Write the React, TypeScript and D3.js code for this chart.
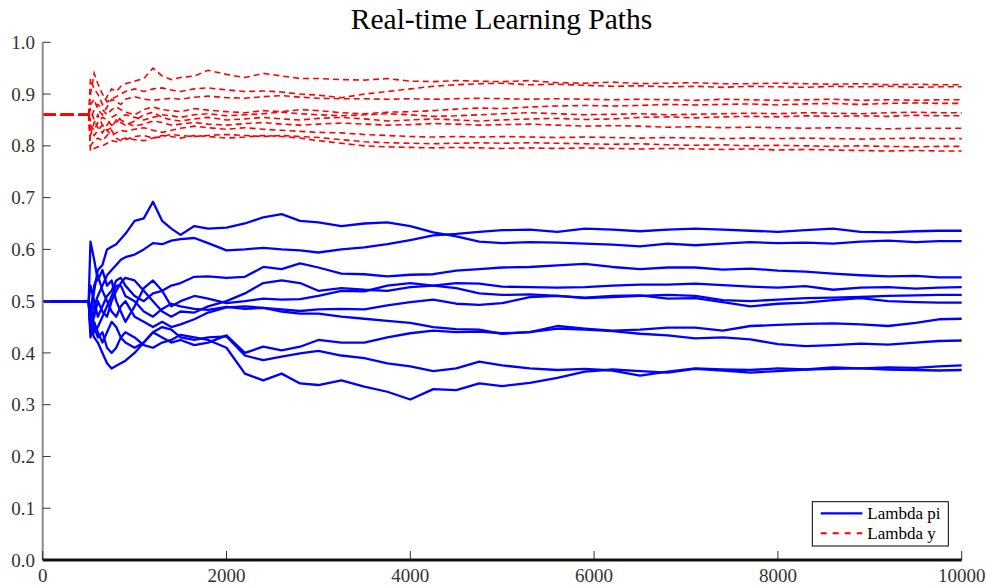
import React from 'react';
import * as d3 from 'd3';

const TITLE = 'Real-time Learning Paths';
const LEGEND_LABELS = ['Lambda pi', 'Lambda y'];
const X_TICKS = [0, 2000, 4000, 6000, 8000, 10000];
const Y_TICKS = [0, 0.1, 0.2, 0.3, 0.4, 0.5, 0.6, 0.7, 0.8, 0.9, 1.0];

// iteration index shared by all paths
const ITER = [0, 500, 520, 560, 600, 650, 700, 750, 800, 850,
  900, 1000, 1100, 1200, 1300, 1400, 1500, 1650, 1800, 2000,
  2200, 2400, 2600, 2800, 3000, 3250, 3500, 3750, 4000, 4250,
  4500, 4750, 5000, 5300, 5600, 5900, 6200, 6500, 6800, 7100,
  7400, 7700, 8000, 8300, 8600, 8900, 9200, 9500, 9750, 10000];

// Lambda pi paths
const PI_1 = [0.5, 0.5, 0.44, 0.49, 0.51, 0.53, 0.55, 0.56, 0.57, 0.58,
  0.585, 0.59, 0.60, 0.612, 0.61, 0.617, 0.62, 0.622, 0.612, 0.598,
  0.60, 0.603, 0.60, 0.598, 0.594, 0.60, 0.604, 0.61, 0.618, 0.627,
  0.63, 0.634, 0.637, 0.638, 0.634, 0.64, 0.638, 0.635, 0.638, 0.64,
  0.638, 0.636, 0.634, 0.637, 0.64, 0.634, 0.633, 0.635, 0.636, 0.636];
const PI_2 = [0.5, 0.5, 0.47, 0.52, 0.56, 0.57, 0.60, 0.605, 0.61, 0.62,
  0.63, 0.655, 0.66, 0.692, 0.655, 0.64, 0.628, 0.645, 0.64, 0.642,
  0.65, 0.662, 0.668, 0.655, 0.652, 0.645, 0.65, 0.652, 0.645, 0.633,
  0.625, 0.615, 0.612, 0.614, 0.613, 0.611, 0.609, 0.606, 0.611, 0.608,
  0.611, 0.614, 0.612, 0.613, 0.611, 0.615, 0.617, 0.614, 0.616, 0.616];
const PI_3 = [0.5, 0.5, 0.53, 0.5, 0.47, 0.49, 0.51, 0.52, 0.54, 0.545,
  0.53, 0.51, 0.50, 0.515, 0.52, 0.53, 0.535, 0.547, 0.548, 0.545,
  0.547, 0.566, 0.562, 0.573, 0.565, 0.553, 0.552, 0.548, 0.551, 0.552,
  0.559, 0.562, 0.565, 0.566, 0.569, 0.572, 0.566, 0.562, 0.565, 0.565,
  0.561, 0.563, 0.559, 0.557, 0.553, 0.55, 0.548, 0.549, 0.546, 0.546];
const PI_4 = [0.5, 0.5, 0.45, 0.47, 0.50, 0.48, 0.47, 0.50, 0.52, 0.535,
  0.545, 0.54, 0.52, 0.50, 0.48, 0.47, 0.48, 0.478, 0.49, 0.50,
  0.515, 0.535, 0.54, 0.535, 0.52, 0.525, 0.522, 0.52, 0.527, 0.53,
  0.535, 0.534, 0.528, 0.527, 0.526, 0.527, 0.53, 0.532, 0.532, 0.534,
  0.531, 0.528, 0.526, 0.529, 0.522, 0.526, 0.527, 0.524, 0.526, 0.527];
const PI_5 = [0.5, 0.5, 0.615, 0.58, 0.54, 0.56, 0.53, 0.54, 0.50, 0.48,
  0.46, 0.49, 0.525, 0.54, 0.52, 0.49, 0.50, 0.51, 0.505, 0.496,
  0.50, 0.505, 0.503, 0.504, 0.51, 0.52, 0.519, 0.53, 0.535, 0.53,
  0.525, 0.515, 0.512, 0.513, 0.51, 0.506, 0.508, 0.51, 0.512, 0.51,
  0.502, 0.50, 0.503, 0.506, 0.507, 0.508, 0.51, 0.511, 0.512, 0.512];
const PI_6 = [0.5, 0.5, 0.48, 0.53, 0.55, 0.52, 0.50, 0.48, 0.47, 0.49,
  0.50, 0.47, 0.46, 0.45, 0.46, 0.45, 0.455, 0.465, 0.478, 0.488,
  0.49, 0.487, 0.484, 0.481, 0.484, 0.485, 0.484, 0.492, 0.498, 0.503,
  0.495, 0.493, 0.496, 0.508, 0.51, 0.507, 0.51, 0.511, 0.505, 0.506,
  0.498, 0.49, 0.495, 0.497, 0.502, 0.506, 0.50, 0.498, 0.497, 0.497];
const PI_7 = [0.5, 0.5, 0.46, 0.44, 0.45, 0.47, 0.49, 0.51, 0.53, 0.53,
  0.51, 0.50, 0.48, 0.47, 0.485, 0.495, 0.49, 0.485, 0.483, 0.489,
  0.485, 0.487, 0.48, 0.476, 0.476, 0.47, 0.466, 0.462, 0.458, 0.45,
  0.446, 0.445, 0.437, 0.44, 0.452, 0.447, 0.443, 0.445, 0.449, 0.449,
  0.443, 0.452, 0.454, 0.456, 0.457, 0.455, 0.452, 0.458, 0.465, 0.466];
const PI_8 = [0.5, 0.5, 0.43, 0.46, 0.44, 0.42, 0.44, 0.46, 0.45, 0.43,
  0.42, 0.41, 0.42, 0.44, 0.43, 0.42, 0.425, 0.415, 0.42, 0.434,
  0.40, 0.412, 0.405, 0.412, 0.425, 0.42, 0.42, 0.43, 0.438, 0.443,
  0.44, 0.441, 0.438, 0.44, 0.447, 0.445, 0.442, 0.437, 0.434, 0.428,
  0.43, 0.426, 0.417, 0.413, 0.415, 0.418, 0.416, 0.42, 0.423, 0.424];
const PI_9 = [0.5, 0.5, 0.45, 0.43, 0.42, 0.40, 0.38, 0.37, 0.375, 0.38,
  0.385, 0.40, 0.42, 0.44, 0.45, 0.445, 0.43, 0.425, 0.43, 0.432,
  0.395, 0.386, 0.393, 0.399, 0.404, 0.395, 0.39, 0.38, 0.374, 0.365,
  0.37, 0.383, 0.376, 0.37, 0.367, 0.369, 0.366, 0.356, 0.364, 0.37,
  0.368, 0.367, 0.37, 0.368, 0.369, 0.37, 0.372, 0.371, 0.374, 0.376];
const PI_10 = [0.5, 0.5, 0.49, 0.45, 0.43, 0.44, 0.41, 0.40, 0.41, 0.43,
  0.44, 0.43, 0.415, 0.41, 0.42, 0.425, 0.435, 0.43, 0.425, 0.41,
  0.36, 0.347, 0.36, 0.341, 0.338, 0.347, 0.335, 0.325, 0.31, 0.33,
  0.328, 0.341, 0.336, 0.342, 0.352, 0.364, 0.368, 0.365, 0.362, 0.369,
  0.366, 0.362, 0.365, 0.368, 0.372, 0.37, 0.368, 0.367, 0.366, 0.367];

// Lambda y paths
const Y_1 = [0.86, 0.86, 0.93, 0.91, 0.90, 0.88, 0.895, 0.91, 0.905, 0.915,
  0.92, 0.925, 0.93, 0.95, 0.935, 0.928, 0.932, 0.935, 0.946, 0.938,
  0.932, 0.94, 0.935, 0.93, 0.93, 0.928, 0.927, 0.93, 0.925, 0.924,
  0.926, 0.925, 0.924, 0.926, 0.922, 0.921, 0.923, 0.92, 0.921, 0.922,
  0.92, 0.92, 0.921, 0.92, 0.919, 0.92, 0.918, 0.919, 0.918, 0.918];
const Y_2 = [0.86, 0.86, 0.90, 0.94, 0.92, 0.90, 0.885, 0.89, 0.895, 0.90,
  0.905, 0.91, 0.905, 0.91, 0.912, 0.908, 0.905, 0.91, 0.912, 0.908,
  0.905, 0.906, 0.904, 0.90, 0.898, 0.893, 0.90, 0.905, 0.91, 0.915,
  0.918, 0.92, 0.921, 0.918, 0.919, 0.917, 0.915, 0.916, 0.914, 0.915,
  0.913, 0.915, 0.914, 0.913, 0.915, 0.914, 0.915, 0.913, 0.914, 0.914];
const Y_3 = [0.86, 0.86, 0.88, 0.89, 0.87, 0.86, 0.875, 0.89, 0.885, 0.88,
  0.89, 0.895, 0.89, 0.888, 0.89, 0.892, 0.89, 0.894, 0.896, 0.893,
  0.892, 0.895, 0.897, 0.894, 0.892, 0.891, 0.891, 0.89, 0.891, 0.89,
  0.891, 0.892, 0.891, 0.89, 0.891, 0.89, 0.889, 0.89, 0.889, 0.888,
  0.89, 0.889, 0.888, 0.889, 0.89, 0.888, 0.889, 0.888, 0.889, 0.889];
const Y_4 = [0.86, 0.86, 0.85, 0.87, 0.88, 0.87, 0.86, 0.87, 0.875, 0.87,
  0.865, 0.86, 0.87, 0.875, 0.87, 0.868, 0.866, 0.872, 0.869, 0.866,
  0.864, 0.868, 0.866, 0.87, 0.868, 0.864, 0.862, 0.865, 0.866, 0.868,
  0.871, 0.873, 0.872, 0.875, 0.877, 0.878, 0.877, 0.878, 0.88, 0.879,
  0.88, 0.881, 0.879, 0.881, 0.882, 0.88, 0.882, 0.883, 0.882, 0.882];
const Y_5 = [0.86, 0.86, 0.84, 0.83, 0.845, 0.855, 0.85, 0.84, 0.845, 0.855,
  0.86, 0.855, 0.85, 0.855, 0.86, 0.858, 0.855, 0.86, 0.862, 0.858,
  0.86, 0.862, 0.865, 0.862, 0.86, 0.858, 0.86, 0.862, 0.86, 0.857,
  0.858, 0.86, 0.862, 0.864, 0.862, 0.86, 0.861, 0.862, 0.86, 0.861,
  0.862, 0.863, 0.862, 0.864, 0.863, 0.862, 0.864, 0.865, 0.864, 0.864];
const Y_6 = [0.86, 0.86, 0.82, 0.845, 0.86, 0.84, 0.83, 0.835, 0.85, 0.845,
  0.84, 0.848, 0.86, 0.865, 0.855, 0.85, 0.848, 0.852, 0.855, 0.85,
  0.852, 0.855, 0.852, 0.85, 0.853, 0.855, 0.852, 0.848, 0.85, 0.852,
  0.85, 0.848, 0.85, 0.852, 0.853, 0.851, 0.852, 0.855, 0.856, 0.854,
  0.856, 0.857, 0.856, 0.858, 0.857, 0.858, 0.857, 0.859, 0.858, 0.858];
const Y_7 = [0.86, 0.86, 0.87, 0.85, 0.835, 0.825, 0.84, 0.855, 0.86, 0.85,
  0.845, 0.838, 0.842, 0.848, 0.845, 0.84, 0.842, 0.845, 0.842, 0.84,
  0.843, 0.845, 0.842, 0.84, 0.842, 0.844, 0.842, 0.84, 0.841, 0.843,
  0.842, 0.84, 0.841, 0.842, 0.84, 0.838, 0.839, 0.838, 0.836, 0.837,
  0.835, 0.836, 0.835, 0.834, 0.835, 0.834, 0.833, 0.834, 0.834, 0.834];
const Y_8 = [0.86, 0.86, 0.835, 0.82, 0.83, 0.84, 0.83, 0.82, 0.825, 0.83,
  0.828, 0.832, 0.835, 0.83, 0.826, 0.83, 0.834, 0.838, 0.835, 0.832,
  0.835, 0.832, 0.83, 0.828, 0.826, 0.825, 0.822, 0.82, 0.818, 0.817,
  0.818, 0.817, 0.818, 0.817, 0.816, 0.817, 0.816, 0.815, 0.816, 0.815,
  0.814, 0.815, 0.814, 0.815, 0.814, 0.813, 0.814, 0.815, 0.814, 0.814];
const Y_9 = [0.86, 0.86, 0.80, 0.81, 0.815, 0.81, 0.82, 0.83, 0.815, 0.81,
  0.812, 0.818, 0.82, 0.815, 0.818, 0.822, 0.82, 0.818, 0.82, 0.822,
  0.82, 0.818, 0.82, 0.818, 0.816, 0.812, 0.808, 0.806, 0.805, 0.804,
  0.805, 0.806, 0.805, 0.806, 0.805, 0.804, 0.803, 0.804, 0.802, 0.801,
  0.802, 0.80, 0.801, 0.80, 0.799, 0.80, 0.799, 0.798, 0.799, 0.799];
const Y_10 = [0.86, 0.86, 0.79, 0.795, 0.798, 0.80, 0.805, 0.81, 0.808, 0.812,
  0.815, 0.812, 0.81, 0.815, 0.82, 0.818, 0.815, 0.82, 0.818, 0.815,
  0.817, 0.82, 0.818, 0.815, 0.81, 0.805, 0.80, 0.798, 0.797, 0.796,
  0.797, 0.796, 0.795, 0.796, 0.795, 0.796, 0.795, 0.794, 0.795, 0.794,
  0.793, 0.794, 0.792, 0.793, 0.792, 0.791, 0.79, 0.791, 0.79, 0.79];

const PI_PATHS = [PI_1, PI_2, PI_3, PI_4, PI_5, PI_6, PI_7, PI_8, PI_9, PI_10];
const Y_PATHS = [Y_1, Y_2, Y_3, Y_4, Y_5, Y_6, Y_7, Y_8, Y_9, Y_10];

const FONT = '"Liberation Serif", "Times New Roman", serif';
const BLUE = '#0000ff';
const RED = '#ff0000';

export default function App() {
  const W = 987;
  const H = 585;
  const x = d3.scaleLinear().domain([0, 10000]).range([42.7, 961.7]);
  const y = d3.scaleLinear().domain([0, 1]).range([560, 42.3]);

  const toPts = (vals: number[], from: number, to: number) =>
    vals.slice(from, to).map((v, i) => [ITER[from + i], v] as [number, number]);
  const line = d3
    .line<[number, number]>()
    .x((d) => x(d[0]))
    .y((d) => y(d[1]));

  return (
    <svg
      width={W}
      height={H}
      style={{ position: 'absolute', left: 0, top: 0, background: '#fff' }}
      fontFamily={FONT}
    >
      <rect x={0} y={0} width={W} height={H} fill="#fff" />
      {/* title */}
      <text x={501.5} y={28.5} textAnchor="middle" fontSize={29.5} fill="#000">
        {TITLE}
      </text>

      {/* Lambda pi lines */}
      <g fill="none" stroke={BLUE} strokeWidth={2.3} strokeLinejoin="round">
        {PI_PATHS.map((p, i) => (
          <path key={i} d={line(toPts(p, 0, p.length)) || ''} />
        ))}
      </g>

      {/* Lambda y lines */}
      <g fill="none" stroke={RED} strokeWidth={1.6}>
        {Y_PATHS.map((p, i) => (
          <path key={'f' + i} d={line(toPts(p, 0, 2)) || ''} strokeDasharray="13,5" strokeWidth={2.2} />
        ))}
        {Y_PATHS.map((p, i) => (
          <path key={'r' + i} d={line(toPts(p, 1, p.length)) || ''} strokeDasharray="6,4" />
        ))}
      </g>

      {/* y axis */}
      <line x1={x(0)} x2={x(0)} y1={y(1)} y2={y(0)} stroke="#8c8c8c" strokeWidth={2} />
      {Y_TICKS.map((t) => (
        <g key={t}>
          <line x1={x(0)} x2={x(0) + 8} y1={y(t)} y2={y(t)} stroke="#333" strokeWidth={1} />
          <text
            x={35}
            y={y(t)}
            dy="0.35em"
            textAnchor="end"
            fontSize={19}
            fill="#333"
          >
            {t.toFixed(1)}
          </text>
        </g>
      ))}

      {/* x axis */}
      {X_TICKS.map((t) => (
        <g key={t}>
          <line x1={x(t)} x2={x(t)} y1={y(0)} y2={y(0) - 9} stroke="#333" strokeWidth={1} />
          <text x={x(t)} y={582} textAnchor="middle" fontSize={19} fill="#333">
            {t}
          </text>
        </g>
      ))}
      <line x1={x(0)} x2={x(10000)} y1={y(0)} y2={y(0)} stroke="#111" strokeWidth={3} />

      {/* legend */}
      <g>
        <rect x={812.3} y={501.7} width={136} height={44.3} fill="#fff" stroke="#000" strokeWidth={1} />
        <line x1={820.7} x2={862.3} y1={513.3} y2={513.3} stroke={BLUE} strokeWidth={2.2} />
        <text x={867.3} y={519} fontSize={17} fill="#000">
          {LEGEND_LABELS[0]}
        </text>
        <line x1={820.7} x2={862.3} y1={533.3} y2={533.3} stroke={RED} strokeWidth={2} strokeDasharray="6,6" />
        <text x={867.3} y={539} fontSize={17} fill="#000">
          {LEGEND_LABELS[1]}
        </text>
      </g>
    </svg>
  );
}
